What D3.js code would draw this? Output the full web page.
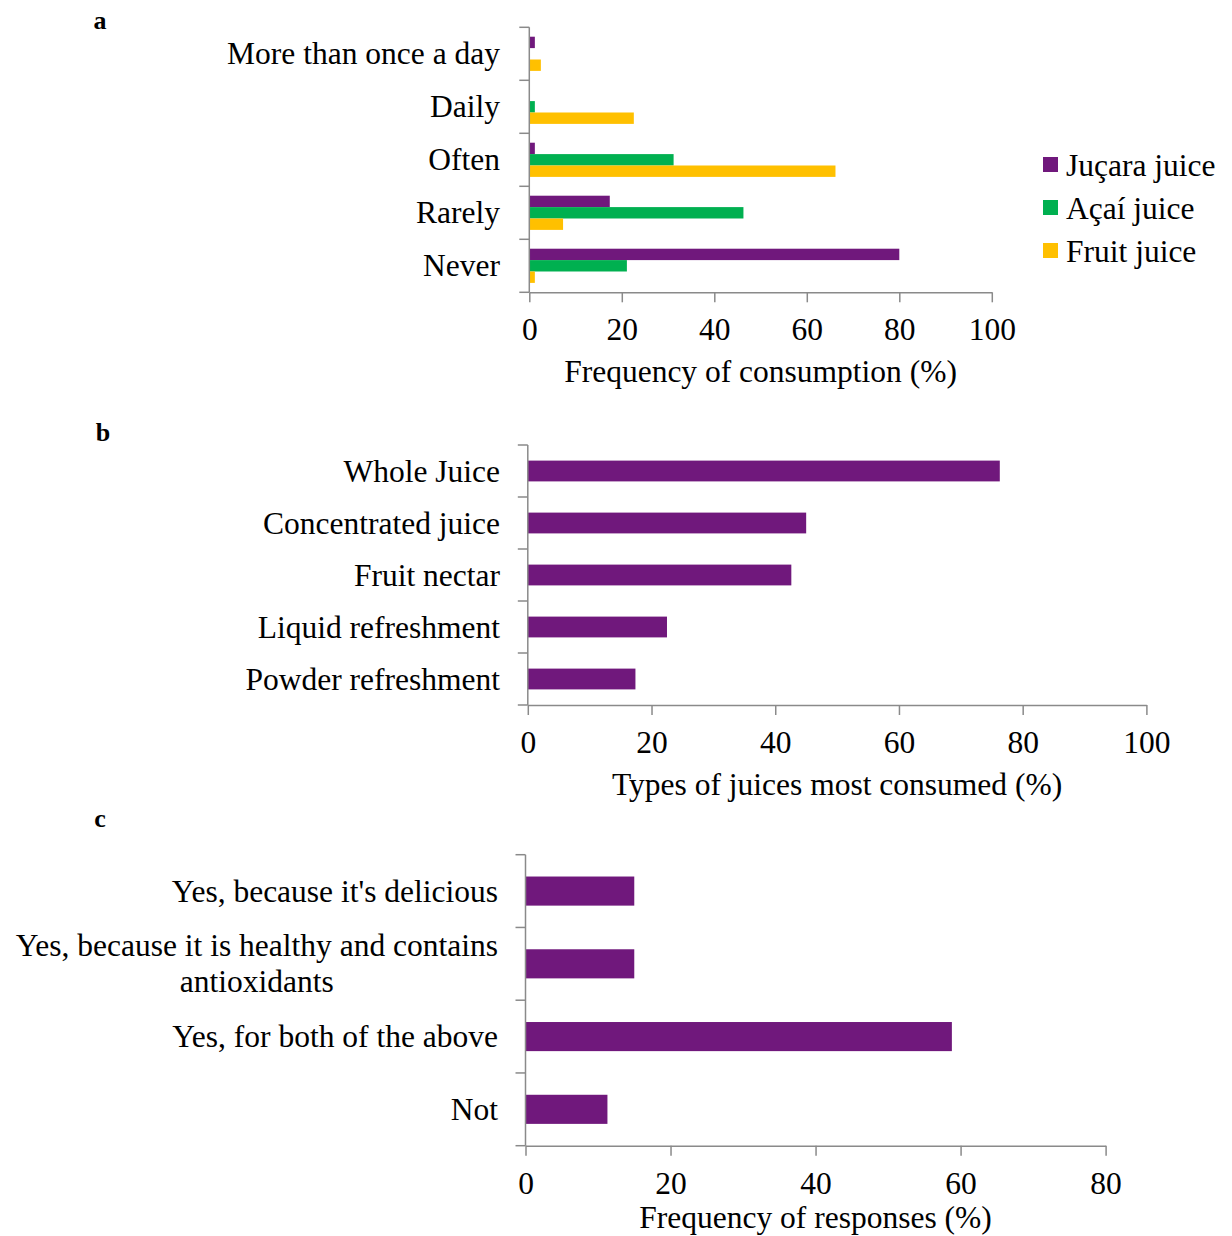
<!DOCTYPE html>
<html>
<head>
<meta charset="utf-8">
<script src="https://cdn.jsdelivr.net/npm/d3@7"></script>
<style>
  html, body { margin: 0; padding: 0; background: #fff; }
  svg text { font-family: "Liberation Serif", "Times New Roman", serif; fill: #000; }
</style>
</head>
<body>
<svg id="chart" width="1232" height="1236"></svg>
<script>
// Panel a: frequency of consumption
const freqCategories = ["More than once a day", "Daily", "Often", "Rarely", "Never"];
const freqSeries = ["Juçara juice", "Açaí juice", "Fruit juice"];
const jucaraValues = [1.2, 0, 1.2, 17.4, 80.0];
const acaiValues = [0, 1.2, 31.2, 46.3, 21.1];
const fruitValues = [2.5, 22.6, 66.2, 7.3, 1.2];
const freqTicks = [0, 20, 40, 60, 80, 100];
const freqTitle = "Frequency of consumption (%)";

// Panel b: types of juices most consumed
const typeCategories = ["Whole Juice", "Concentrated juice", "Fruit nectar", "Liquid refreshment", "Powder refreshment"];
const typeValues = [76.3, 45.0, 42.6, 22.5, 17.4];
const typeTicks = [0, 20, 40, 60, 80, 100];
const typeTitle = "Types of juices most consumed (%)";

// Panel c: reasons for consuming (multi-line labels)
const reasonCategories = [
  ["Yes, because it's delicious"],
  ["Yes, because it is healthy and contains", "antioxidants"],
  ["Yes, for both of the above"],
  ["Not"]
];
const reasonValues = [15.0, 15.0, 58.8, 11.3];
const reasonTicks = [0, 20, 40, 60, 80];
const reasonTitle = "Frequency of responses (%)";

const seriesColors = ["#70187C", "#00B050", "#FFC000"];
const axisColor = "#8a8a8a";
const fontSize = 31.5;

const svg = d3.select("#chart");

function drawPanel(opt) {
  const g = svg.append("g");
  const x = d3.scaleLinear().domain([0, opt.max]).range([opt.x0, opt.x1]);
  const y = d3.scaleBand().domain(d3.range(opt.cats.length)).range([opt.y0, opt.y1])
    .paddingInner(opt.padInner).paddingOuter(opt.padInner / 2);

  // bars
  if (opt.series) {
    const sub = d3.scaleBand().domain(d3.range(opt.series.length)).range([0, y.bandwidth()]);
    opt.series.forEach((vals, si) => {
      g.append("g").selectAll("rect").data(vals).join("rect")
        .attr("x", x(0))
        .attr("y", (d, i) => y(i) + sub(si))
        .attr("width", d => x(d) - x(0))
        .attr("height", sub.bandwidth())
        .attr("fill", seriesColors[si]);
    });
  } else {
    g.append("g").selectAll("rect").data(opt.values).join("rect")
      .attr("x", x(0))
      .attr("y", (d, i) => y(i))
      .attr("width", d => x(d) - x(0))
      .attr("height", y.bandwidth())
      .attr("fill", seriesColors[0]);
  }

  // x axis
  const xa = g.append("g")
    .attr("transform", `translate(0,${opt.y1})`)
    .call(d3.axisBottom(x).tickValues(opt.ticks).tickSize(10).tickSizeOuter(0));
  xa.select(".domain").attr("stroke", axisColor).attr("stroke-width", 1.5);
  xa.selectAll(".tick line").attr("stroke", axisColor).attr("stroke-width", 1.5);
  xa.selectAll(".tick text")
    .attr("y", 48).attr("dy", null)
    .attr("fill", "#000")
    .style("font-family", '"Liberation Serif", serif')
    .style("font-size", fontSize + "px");

  // y axis: line and ticks at the category boundaries
  const step = y.step();
  g.append("line")
    .attr("x1", opt.x0).attr("x2", opt.x0)
    .attr("y1", opt.y0).attr("y2", opt.y1)
    .attr("stroke", axisColor).attr("stroke-width", 1.5);
  g.append("g").selectAll("line").data(d3.range(opt.cats.length + 1)).join("line")
    .attr("x1", opt.x0 - 10).attr("x2", opt.x0)
    .attr("y1", i => opt.y0 + i * step).attr("y2", i => opt.y0 + i * step)
    .attr("stroke", axisColor).attr("stroke-width", 1.5);

  // category labels
  const lineH = 36;
  opt.cats.forEach((c, i) => {
    const lines = Array.isArray(c) ? c : [c];
    const cy = y(i) + y.bandwidth() / 2;
    const t = g.append("text")
      .attr("font-size", fontSize)
      .attr("text-anchor", lines.length > 1 ? "middle" : "end");
    if (lines.length > 1) {
      // measure the first line so the centred block stays right-aligned
      const tmp = g.append("text").attr("font-size", fontSize).text(lines[0]);
      const w = tmp.node().getComputedTextLength();
      tmp.remove();
      const cx = opt.labelRight - w / 2;
      lines.forEach((ln, k) => {
        t.append("tspan")
          .attr("x", cx)
          .attr("y", cy + (k - (lines.length - 1) / 2) * lineH + 10.5)
          .text(ln);
      });
    } else {
      t.attr("x", opt.labelRight).attr("y", cy + 10.5).text(lines[0]);
    }
  });

  // axis title
  g.append("text")
    .attr("x", (opt.x0 + opt.x1) / 2)
    .attr("y", opt.y1 + opt.titleOffset)
    .attr("text-anchor", "middle")
    .attr("font-size", fontSize)
    .text(opt.title);

  // panel letter
  g.append("text")
    .attr("x", opt.letterX).attr("y", opt.letterY)
    .attr("text-anchor", "middle")
    .attr("font-size", 26).attr("font-weight", "bold")
    .text(opt.letter);
}

drawPanel({
  cats: freqCategories, series: [jucaraValues, acaiValues, fruitValues],
  max: 100, ticks: freqTicks, title: freqTitle,
  x0: 529.3, x1: 991.8, y0: 27.3, y1: 292.3, padInner: 0.355,
  labelRight: 500, titleOffset: 90, letter: "a", letterX: 100, letterY: 29
});

drawPanel({
  cats: typeCategories, values: typeValues,
  max: 100, ticks: typeTicks, title: typeTitle,
  x0: 527.8, x1: 1146.4, y0: 445, y1: 705, padInner: 0.6,
  labelRight: 500, titleOffset: 90, letter: "b", letterX: 103, letterY: 441
});

drawPanel({
  cats: reasonCategories, values: reasonValues,
  max: 80, ticks: reasonTicks, title: reasonTitle,
  x0: 525.5, x1: 1105.6, y0: 854.7, y1: 1145.7, padInner: 0.6,
  labelRight: 498, titleOffset: 82.5, letter: "c", letterX: 100, letterY: 827
});

// legend for panel a
const legend = svg.append("g").selectAll("g").data(freqSeries).join("g")
  .attr("transform", (d, i) => `translate(1043,${165 + i * 43})`);
legend.append("rect")
  .attr("x", 0).attr("y", -8).attr("width", 15).attr("height", 15)
  .attr("fill", (d, i) => seriesColors[i]);
legend.append("text")
  .attr("x", 23).attr("y", 10.5)
  .attr("font-size", fontSize)
  .text(d => d);
</script>
</body>
</html>
